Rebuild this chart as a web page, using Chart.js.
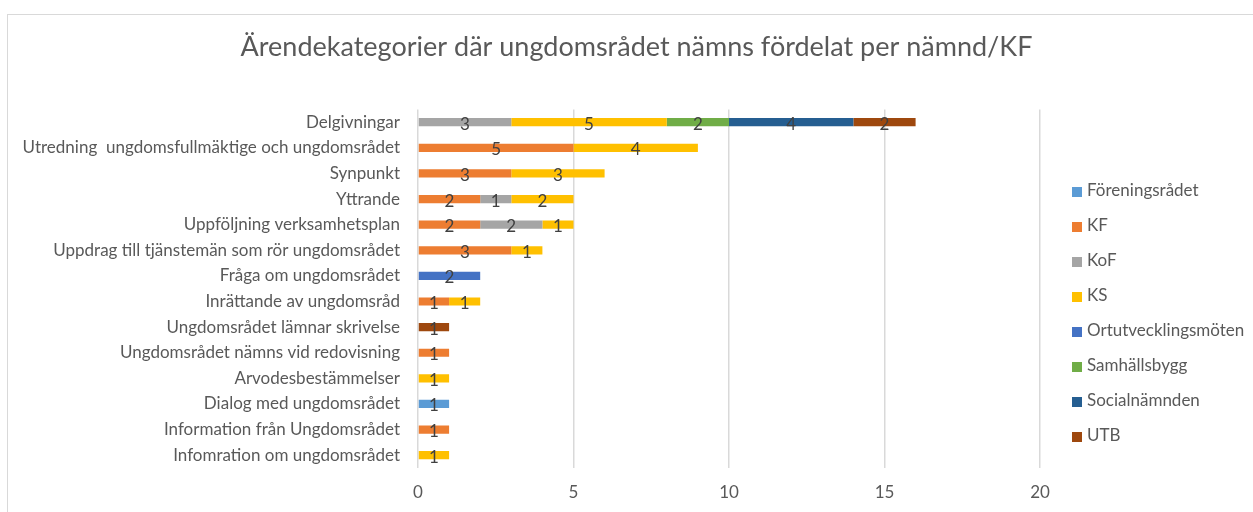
<!DOCTYPE html>
<html>
<head>
<meta charset="utf-8">
<script src="https://cdn.jsdelivr.net/npm/chart.js@4"></script>
<style>
  body { margin: 0; background: #fff; overflow: hidden; }
  #frame { position: absolute; left: 7px; top: 14px; width: 1300px; height: 600px; border: 1px solid #d9d9d9; }
  #wrap { position: absolute; left: 0; top: 0; width: 1253px; height: 512px; }
  #legend { position: absolute; left: 1072px; top: 178px; font-family: Lato, sans-serif; font-size: 17px; color: #595959; }
  #legend div { height: 35px; line-height: 24px; white-space: nowrap; }
  #legend span { display: inline-block; width: 10px; height: 10px; margin-right: 5px; vertical-align: -1px; }
</style>
</head>
<body>
<div id="frame"></div>
<div id="wrap"><canvas id="chart" width="1253" height="512"></canvas></div>
<div id="legend"></div>
<script>
// categories, top to bottom
const categories = [
    'Delgivningar',
    'Utredning  ungdomsfullmäktige och ungdomsrådet',
    'Synpunkt',
    'Yttrande',
    'Uppföljning verksamhetsplan',
    'Uppdrag till tjänstemän som rör ungdomsrådet',
    'Fråga om ungdomsrådet',
    'Inrättande av ungdomsråd',
    'Ungdomsrådet lämnar skrivelse',
    'Ungdomsrådet nämns vid redovisning',
    'Arvodesbestämmelser',
    'Dialog med ungdomsrådet',
    'Information från Ungdomsrådet',
    'Infomration om ungdomsrådet'
];

// one list per nämnd/KF
const foreningsradet = [null, null, null, null, null, null, null, null, null, null, null, 1, null, null];
const kf             = [null, 5, 3, 2, 2, 3, null, 1, null, 1, null, null, 1, null];
const kof            = [3, null, null, 1, 2, null, null, null, null, null, null, null, null, null];
const ks             = [5, 4, 3, 2, 1, 1, null, 1, null, null, 1, null, null, 1];
const ortutveckling  = [null, null, null, null, null, null, 2, null, null, null, null, null, null, null];
const samhallsbygg   = [2, null, null, null, null, null, null, null, null, null, null, null, null, null];
const socialnamnden  = [4, null, null, null, null, null, null, null, null, null, null, null, null, null];
const utb            = [2, null, null, null, null, null, null, null, 1, null, null, null, null, null];

const xTicks = [0, 5, 10, 15, 20];

const seriesNames = ['Föreningsrådet', 'KF', 'KoF', 'KS', 'Ortutvecklingsmöten', 'Samhällsbygg', 'Socialnämnden', 'UTB'];
const seriesData = [foreningsradet, kf, kof, ks, ortutveckling, samhallsbygg, socialnamnden, utb];
const seriesColors = ['#5B9BD5', '#ED7D31', '#A5A5A5', '#FFC000', '#4472C4', '#70AD47', '#255E91', '#9E480E'];

const FONT = 'Lato, "Open Sans", sans-serif';

// Draw value labels centred in each segment
const segmentLabels = {
    id: 'segmentLabels',
    afterDatasetsDraw(chart) {
        const ctx = chart.ctx;
        ctx.save();
        ctx.font = '17px ' + FONT;
        ctx.fillStyle = '#404040';
        ctx.textAlign = 'center';
        ctx.textBaseline = 'middle';
        chart.data.datasets.forEach((ds, i) => {
            const meta = chart.getDatasetMeta(i);
            meta.data.forEach((bar, j) => {
                const v = ds.data[j];
                if (!v) return;
                const cx = (bar.x + bar.base) / 2;
                ctx.fillText(String(v), cx, bar.y + 2);
            });
        });
        ctx.restore();
    }
};

const ctx = document.getElementById('chart').getContext('2d');
const chart = new Chart(ctx, {
    type: 'bar',
    data: {
        labels: categories,
        datasets: seriesNames.map((name, i) => ({
            label: name,
            data: seriesData[i],
            backgroundColor: seriesColors[i],
            borderWidth: 0,
            categoryPercentage: 1,
            barPercentage: 0.32
        }))
    },
    options: {
        indexAxis: 'y',
        responsive: false,
        animation: false,
        layout: { padding: { left: 20, right: 0, top: 0, bottom: 0 } },
        plugins: {
            legend: { display: false },
            tooltip: { enabled: false },
            title: {
                display: true,
                text: 'Ärendekategorier där ungdomsrådet nämns fördelat per nämnd/KF',
                color: '#595959',
                font: { family: FONT, size: 27, weight: 'normal' },
                padding: { top: 31, bottom: 46 }
            }
        },
        scales: {
            x: {
                stacked: true,
                min: 0,
                max: 20,
                afterBuildTicks: axis => { axis.ticks = xTicks.map(v => ({ value: v })); },
                afterFit: axis => { axis.height = 44; },
                grid: { color: '#d9d9d9', lineWidth: 1.5, drawTicks: false },
                border: { display: false },
                ticks: { color: '#595959', font: { family: FONT, size: 17 }, padding: 14 }
            },
            y: {
                stacked: true,
                afterFit: axis => { axis.width = 398; },
                grid: { display: false, drawTicks: false },
                border: { display: false },
                ticks: { color: '#595959', font: { family: FONT, size: 17 }, padding: 18, autoSkip: false }
            },
            // empty axis on the right that keeps room for the legend
            legendSpace: {
                type: 'linear',
                position: 'right',
                display: true,
                afterFit: axis => { axis.width = 213; },
                grid: { display: false },
                border: { display: false },
                ticks: { display: false }
            }
        }
    },
    plugins: [segmentLabels]
});

// HTML legend built from the datasets
const legendEl = document.getElementById('legend');
chart.data.datasets.forEach(ds => {
    const row = document.createElement('div');
    row.innerHTML = `<span style="background:${ds.backgroundColor}"></span>${ds.label}`;
    legendEl.appendChild(row);
});
</script>
</body>
</html>
